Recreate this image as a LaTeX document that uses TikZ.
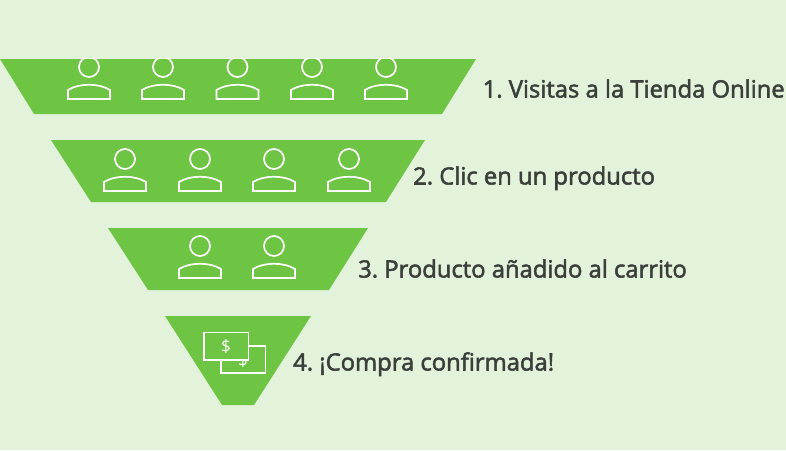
\documentclass[tikz,border=0pt]{standalone}
\usepackage{fontspec}
\setmainfont{Open Sans}[UprightFeatures={FakeBold=2.2}]
\newfontfamily\notefont{Open Sans}
\definecolor{paleback}{HTML}{E3F2DA}
\definecolor{funnelgreen}{HTML}{6EC544}
\definecolor{labelgray}{HTML}{3A3F3A}
\tikzset{
  band/.style={fill=funnelgreen},
  outline/.style={draw=white, line width=1.7pt},
  steplabel/.style={anchor=base west, text=labelgray, font=\fontsize{23.8}{26}\selectfont\frenchspacing, inner sep=0pt},
  dollar/.style={text=white, font=\notefont\fontsize{17}{18}\selectfont, inner sep=0pt}
}
% one visitor: head and shoulders, measured from the centre of the head
\newcommand{\visitor}[2]{
  \draw[outline] (#1,#2) circle [radius=10];
  \draw[outline] (#1-21,#2+32) -- (#1-21,#2+23) .. controls (#1-10,#2+16) and (#1+10,#2+16) .. (#1+21,#2+23) -- (#1+21,#2+32) -- cycle;
}
\begin{document}
\begin{tikzpicture}[x=1pt, y=-1pt]
  \fill[paleback] (0,0) rectangle (786,450);
  \useasboundingbox (0,0) rectangle (786,450);

  % The four bands of the funnel
  \fill[band] (0,59) -- (476,59) -- (442,114) -- (34,114) -- cycle;
  \fill[band] (51,140) -- (425,140) -- (386,202) -- (91,202) -- cycle;
  \fill[band] (108,228) -- (368,228) -- (329,290) -- (148,290) -- cycle;
  \fill[band] (165,316) -- (311,316) -- (254,405) -- (222,405) -- cycle;

  % Visitors, the top row is cut by the edge of its band
  \begin{scope}
    \clip (0,58) rectangle (476,114);
    \foreach \x in {89,163,237.5,312,386} {\visitor{\x}{67}}
  \end{scope}
  \foreach \x in {125,200,274,349} {\visitor{\x}{159}}
  \foreach \x in {200,274} {\visitor{\x}{246}}

  % Banknotes
  \draw[outline] (221,346) rectangle (265.5,373);
  \node[dollar] (backnote) at (243,361) {\$};
  \draw[outline, fill=funnelgreen] (204,332.5) rectangle (248.5,360);
  \node[dollar] (frontnote) at (226,347) {\$};

  % Labels
  \node[steplabel] (visits) at (482.5,97.5) {1. Visitas a la Tienda Online};
  \node[steplabel] (click) at (413,184.5) {2. Clic en un producto};
  \node[steplabel] (cart) at (358,277.5) {3. Producto añadido al carrito};
  \node[steplabel] (bought) at (293,370.5) {4. ¡Compra confirmada!};
\end{tikzpicture}
\end{document}
